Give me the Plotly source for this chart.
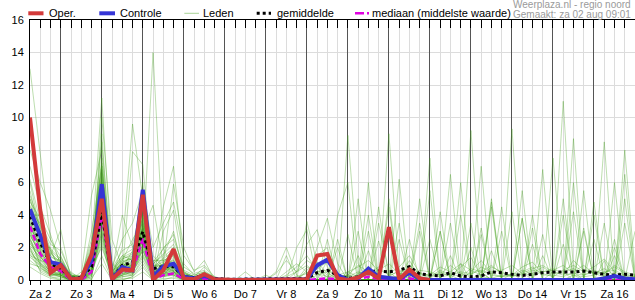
import plotly.graph_objects as go

# ---------------- data ----------------
# time axis: hours since Sat 2 Aug 00:00, 6-hourly steps
hours = list(range(6, 361, 6))
day_labels = ["Za 2", "Zo 3", "Ma 4", "Di 5", "Wo 6", "Do 7", "Vr 8", "Za 9",
              "Zo 10", "Ma 11", "Di 12", "Wo 13", "Do 14", "Vr 15", "Za 16"]
label_hours = [12 + 24 * i for i in range(15)]      # noon of each day
day_starts = [24 * i for i in range(1, 15)]         # midnight boundaries
y_ticks = [0, 2, 4, 6, 8, 10, 12, 14, 16]

# operational run (h6 .. h240)
oper = [10.0, 4.3, 0.45, 0.9, 0.05, 0.1, 1.55, 5.0, 0.05, 0.65,
        0.6, 5.25, 0.0, 0.6, 1.9, 0.1, 0.05, 0.35, 0.05, 0.0,
        0.0, 0.0, 0.0, 0.0, 0.0, 0.0, 0.0, 0.05, 1.5, 1.6,
        0.1, 0.0, 0.15, 0.5, 0.1, 3.25, 0.05, 0.65, 0.1, 0.0]

# control run (h6 .. h360)
control = [4.35, 2.8, 1.1, 0.95, 0.05, 0.1, 1.2, 5.9, 0.05, 0.8,
           0.6, 5.55, 0.2, 0.85, 1.0, 0.2, 0.1, 0.25, 0.05, 0.0,
           0.0, 0.0, 0.0, 0.0, 0.0, 0.0, 0.05,
           0.05, 0.9, 1.25, 0.3, 0.0, 0.1, 0.7, 0.2, 0.15, 0.05, 0.45, 0.05, 0.0,
           0.0, 0.0, 0.0, 0.0, 0.0, 0.05, 0.05, 0.0, 0.0, 0.0,
           0.0, 0.0, 0.05, 0.05, 0.05, 0.0, 0.1, 0.25, 0.1, 0.05]

# ensemble mean
mean = [3.9, 2.3, 1.0, 0.72, 0.1, 0.15, 0.8, 4.2, 0.1, 0.9,
        1.1, 2.97, 0.7, 0.83, 0.82, 0.2, 0.15, 0.3, 0.1, 0.05,
        0.05, 0.05, 0.05, 0.05, 0.05, 0.08, 0.1,
        0.1, 0.45, 0.6, 0.3, 0.1, 0.2, 0.5, 0.55, 0.5, 0.6, 0.82, 0.37, 0.3,
        0.25, 0.45, 0.25, 0.2, 0.25, 0.5, 0.45, 0.35, 0.28, 0.35,
        0.45, 0.5, 0.5, 0.5, 0.55, 0.45, 0.35, 0.3, 0.35, 0.3]

# ensemble median
median = [3.3, 1.6, 0.8, 0.55, 0.0, 0.0, 0.5, 4.0, 0.0, 0.55,
          0.55, 2.55, 0.05, 0.3, 0.4, 0.05, 0.0, 0.05, 0.0, 0.0,
          0.0, 0.0, 0.0, 0.0, 0.0, 0.0, 0.0,
          0.0, 0.05, 0.1, 0.05, 0.0, 0.05, 0.2, 0.05, 0.05, 0.0, 0.1, 0.0, 0.0,
          0.0, 0.0, 0.0, 0.0, 0.0, 0.0, 0.0, 0.0, 0.0, 0.0,
          0.0, 0.0, 0.0, 0.0, 0.0, 0.0, 0.0, 0.0, 0.0, 0.0]

# ensemble members, first part h6 .. h120
members_early = [
    "13 7.8 2.5 1 0.2 0 1.2 6 0.5 1 0.8 2.5 0.3 0.5 0.3 0 0 0.2 0 0",
    "8 6 4.3 2 0.3 0.2 2 11.2 1 0.5 0.3 4 1.5 0.8 0.5 0.2 0 0.5 0 0",
    "6 3 1.5 3.1 0 0 0.5 9 0.3 2 9.6 5 0.5 1 2 0.5 0.2 0 0 0",
    "5 2.5 0.8 0.5 0 0.3 5.2 8 0.2 0.5 7.9 7.1 0.2 0.3 1 0 0 0.2 0 0",
    "4 4 1.2 0.3 0.5 0 0.2 10 2.5 0.8 0.5 2 14 2 0.5 0 0 0 0 0",
    "3.5 1.8 0.5 1.5 0 0 3 7 0 1 1.5 6 0.5 4.5 7 1 0.3 0.5 0.2 0",
    "3 2 2 0.2 0 0.5 0 4 0.5 4 2 3 4.6 1 5.9 2 0.5 1.2 0 0",
    "2.5 1 0.3 0.8 0.2 0 1 5 0 0.3 0.5 1.5 0.2 3 4.3 0.5 0 0 0 0",
    "2 0.5 0.2 0 0 0 0.3 3 0 0 0.2 1 0 0.5 1 0 0 0 0 0",
    "1.5 1.2 1 0.5 0 0.1 0.8 2 0.3 0.5 1 4 0.8 0.2 0.4 0 0 0.3 0 0",
    "4.5 3 1.8 0.6 0.1 0 1.5 6.5 0.2 1.2 2.5 3.5 1 1.5 3 0.3 0 0 0 0",
    "2.8 1.5 0.4 0.2 0 0 0.2 3.5 0 0.8 0.6 2.2 0.3 0.6 0.8 0 0 0.1 0 0",
    "1 0.8 0.2 0.1 0 0 0 1.5 0 0 0.2 0.8 0 0 0.2 0 0 0 0 0",
    "3.2 2.2 1 0.9 0.3 0.2 2.5 5.5 0.6 1.5 1.2 4.5 0.6 2 2.5 0.8 0.4 0.6 0.1 0",
    "5.5 2.8 0.6 0.3 0 0 0.6 4.5 0.2 0.3 0.8 2.8 0.4 0.4 0.6 0.1 0 0 0 0",
    "2.2 1.6 1.4 1.2 0.2 0.1 1.8 7.5 0.4 0.7 1.8 3.2 1.2 1.2 1.5 0.3 0.2 0.4 0 0",
    "3.8 2.5 0.9 0.4 0 0 0.4 3.8 0.1 0.6 0.4 2.6 0.3 0.2 0.5 0 0 0 0 0",
    "1.8 1 0.6 0.7 0.1 0.3 1.3 4.8 0.3 1.1 1.3 3.6 0.9 0.9 1.2 0.2 0.1 0.2 0 0",
    "7 4.5 2.8 0.9 0.2 0.1 0.9 5.8 0.6 0.9 0.9 1.8 0.5 0.7 0.9 0.4 0.2 0.8 0.1 0",
    "2.6 0.9 0.3 0.3 0 0 0.5 2.6 0.1 0.2 0.3 1.2 0.1 0.3 0.3 0 0 0 0 0",
    "4.2 3.5 2.2 1.8 0.4 0.2 1.6 8.5 0.8 2.5 3.5 5.5 2 3.5 4.8 1.5 0.6 0.9 0.2 0",
    "0.8 0.4 0.1 0 0 0 0.1 1 0 0.1 0.1 0.5 0 0.1 0.1 0 0 0 0 0",
    "3.6 1.9 0.7 0.6 0.1 0 0.7 4.2 0.2 0.6 0.7 2.4 0.3 0.6 0.7 0.1 0.1 0.1 0 0",
    "2.4 1.3 0.5 0.4 0 0.2 1.1 6.2 0.4 0.9 1.1 3.3 0.7 1 1.1 0.2 0.1 0.3 0 0",
    "5 3.2 1.6 1.1 0.3 0.1 1.9 7.2 0.5 1.3 1.6 3.9 0.8 1.3 1.8 0.4 0.2 0.4 0.1 0",
    "1.2 0.7 0.4 0.3 0 0 0.4 2.4 0 0.4 0.5 1.6 0.2 0.4 0.4 0.1 0 0.1 0 0",
    "3.3 2.1 1.1 0.8 0.2 0.1 1.4 5.2 0.3 0.8 1.4 3.1 0.6 0.8 1.3 0.3 0.1 0.3 0 0",
    "2 1.1 0.4 0.2 0 0 0.6 3.3 0.1 0.5 0.6 2.1 0.2 0.5 0.6 0.1 0 0.1 0 0",
    "4.8 3.8 2.5 1.4 0.3 0.2 2.2 6.8 0.7 1.8 2.2 4.8 1.1 1.9 2.8 0.6 0.3 0.5 0.1 0",
    "3 1.4 0.8 0.5 0.1 0 0.9 4.6 0.2 0.7 0.9 2.9 0.4 0.6 1 0.2 0 0.2 0 0",
    "2.7 1.7 0.9 0.6 0.1 0 1 4.9 0.3 0.8 1 2.7 0.5 0.7 0.8 0.1 0 0.2 0 0",
    "3.4 2.4 1.3 0.5 0 0 0.8 5.8 0.2 0.6 0.7 3.4 0.4 0.9 1.4 0.3 0.1 0.2 0 0",
    "1.6 0.6 0.3 0.4 0 0 0.3 2.8 0 0.3 0.4 1.9 0.2 0.3 0.5 0 0 0 0 0",
    "4.4 2.9 1.5 1 0.2 0.1 1.7 6.6 0.5 1.4 1.7 4.2 0.8 1.1 1.6 0.3 0.1 0.3 0 0",
    "2.3 1.2 0.5 0.3 0 0 0.5 3.1 0.1 0.4 0.5 2.3 0.3 0.4 0.5 0.1 0 0 0 0",
    "3.1 2 1 0.7 0.1 0.1 1.2 5 0.4 1 1.2 3.5 0.6 0.9 1.1 0.2 0.1 0.2 0 0",
    "1.9 0.8 0.3 0.2 0 0 0.4 2.2 0 0.2 0.3 1.4 0.1 0.2 0.3 0 0 0 0 0",
    "6.2 3.6 1.9 1.3 0.2 0.1 1.4 6 0.3 1.1 1.4 3 0.7 1 1.2 0.3 0.2 0.3 0 0",
    "2.9 1.8 0.8 0.5 0 0 0.7 3.9 0.2 0.5 0.8 2.5 0.4 0.5 0.7 0.1 0 0.1 0 0",
    "3.7 2.3 1.2 0.9 0.2 0.1 1.3 5.4 0.4 1.2 1.3 3.7 0.7 1.4 2 0.4 0.2 0.3 0 0",
    "2.1 1.4 0.7 0.5 0.1 0 0.9 4.4 0.2 0.6 0.9 2.8 0.4 0.6 0.8 0.1 0 0.1 0 0",
    "3.9 2.6 1.1 0.8 0.1 0.1 1.1 5.1 0.3 0.9 1 3 0.5 0.8 1 0.2 0.1 0.2 0 0",
    "1.4 0.9 0.5 0.3 0 0 0.6 3.6 0.1 0.4 0.6 2 0.3 0.4 0.6 0 0 0 0 0",
    "4.6 3.3 1.7 1 0.2 0.1 1.5 6.3 0.5 1.3 1.5 3.8 0.7 1.2 1.5 0.3 0.1 0.3 0 0",
    "2.5 1.5 0.6 0.4 0 0 0.7 4 0.2 0.6 0.7 2.6 0.4 0.5 0.7 0.1 0 0.1 0 0",
    "3.5 2.2 1 0.6 0.1 0 1 4.7 0.3 0.7 0.9 3.2 0.5 0.7 0.9 0.2 0 0.2 0 0",
    "1.7 1 0.4 0.3 0 0 0.5 2.9 0.1 0.3 0.5 1.8 0.2 0.3 0.4 0 0 0 0 0",
    "5.2 3.4 1.8 1.2 0.3 0.1 1.8 7 0.6 1.5 1.9 4.5 1 1.6 2.2 0.5 0.2 0.4 0.1 0",
    "2.8 1.6 0.7 0.6 0.1 0 0.8 4.3 0.2 0.7 0.8 2.7 0.4 0.6 0.8 0.1 0 0.1 0 0",
    "3.3 2 0.9 0.7 0.1 0.1 1.1 5.2 0.3 0.8 1.1 3.3 0.5 0.8 1 0.2 0.1 0.2 0 0",
]

# ensemble members, second part h126 .. h360 (grouped per day)
members_late = [
    "0 0 0 | 0 0 0 0 | 0 0.3 0.5 0 | 8.9 1 0 0 | 0 0 0.2 0 | 0 0 1.5 0 | 0 0.5 0 0 | 0 0 2.2 0 | 0 0 0.3 0 | 0 1.2 0 0 | 0",
    "0 0 0 | 0 0.5 2 0.3 | 0 0 0 0 | 0 0 1.8 0 | 9 0.5 0 0 | 0 0 0 0 | 0 2.8 0 0 | 0.4 0 0 0 | 0 0 0 3.2 | 0 0 0 0 | 0",
    "0 0 0 | 0 0 0 0 | 3.6 1 0 0 | 0 0 0 2.4 | 0 0 0 0 | 0 0 0 0 | 9.2 0.5 0 0 | 0 0 0 1.5 | 0 0 0 0 | 0 0 2 0 | 0",
    "0 0 0 | 0 0 0 0 | 0 0 1.2 0 | 0 0 0 0 | 0 2.5 0 0 | 0 0 0 1 | 0 0 0 0 | 9.3 0.5 0 0 | 0 0 0 0 | 0 0 0 3.5 | 0",
    "0 0 0 | 0 0 0 0 | 0 0 0 0 | 0 1.5 0 0 | 0 0 0 0 | 0 4.2 0 0 | 0 0 0 0 | 0 0 0 0 | 0.5 11 0.5 0 | 0 0 0 0 | 0",
    "0 0 0 | 0 0 0 0 | 0 0 0 0 | 0 0 0 0 | 0 0 0 3.5 | 0 0 0 0 | 0 0 1.8 0 | 0 0 0 0 | 0 0 8.7 0 | 0 8.5 0 0 | 0",
    "0 0 0 | 0 0 0 0 | 0 0 0 0 | 0 0 0 0 | 0 0 0 0 | 2.5 0 0 0 | 0 0 0 4.5 | 0 0 0 0 | 7.5 0.5 0 0 | 0 0 0 8 | 0.5",
    "0 0 0 | 0 0 1.5 0 | 0 0 0 4 | 6 0 0 0 | 0 0 0 0 | 0 3 0 0 | 0 0 5 0 | 0 0 0 0 | 0 4 0 0 | 0 0 0 0 | 0",
    "0 0.5 0 | 0 0 0 2 | 3.1 0 0 0 | 0 0 6 0 | 0 0 0 0 | 5.5 0 0 0 | 0 0 0 0 | 0 3.8 0 0 | 0 0 0 0 | 2.5 0 0 0 | 0",
    "0 0 0 | 0 0 0 0 | 0 0 0 0 | 0 0 0 4.5 | 0 0 0 0 | 0 0 6.5 0 | 0 0 0 0 | 4.2 0 0 0 | 0 0 0 0 | 0 0 0 5 | 0",
    "0 0 0 | 0 0 0 0 | 0.5 0 0 0 | 0 0 0 0 | 0 6.2 0 0 | 0 0 0 0 | 0 0 0 3 | 0 0 0 0 | 0 0 0 0 | 0 0 6 0 | 0",
    "0 0 0 | 0 0 0 0 | 0 1.5 2 0 | 0 0 0 0 | 0 0 0 0 | 0 0 0 4 | 0 0 0 0 | 0 0 0 6.8 | 0 0 0 0 | 0 0 0 0 | 3",
    "0 0 0 | 0.3 0 0 0 | 0 0 0 0 | 0 0 0 0 | 0 0 0 0 | 0 0 0 0 | 0 7 0 0 | 0 0 0 0 | 0 0 0 0 | 4.8 0 0 0 | 0",
    "0 0 0 | 0 0 0 0.5 | 1.2 0.8 0.3 0 | 0.5 0.8 1.2 0.6 | 0.4 0.8 1.5 0.4 | 0.3 0.2 0.3 0.5 | 0.4 0.6 0.3 0.2 | 0.4 0.3 0.6 0.5 | 0.7 0.4 0.3 0.2 | 0.3 0.5 0.6 0.3 | 0.2",
    "0 0 0 | 0 0 0 0 | 0 0 0 2 | 0 0 0 0 | 0 0 0 0 | 0 0 0 0 | 3.5 0 0 0 | 0 0 0 0 | 0 0 6 0 | 0 0 0 0 | 0",
    "0 0 0 | 0 0 0 0 | 0.8 0.5 0.6 0.2 | 0.3 0.2 0.8 0.3 | 0.2 0.2 1.2 0.2 | 0.1 0.5 0.2 0.8 | 1.4 0.2 0.1 0.3 | 0.2 0.5 0.8 0.3 | 0.3 0.2 0.5 0.9 | 0.4 0.2 0.2 0.1 | 0.2",
    "0 0 0 | 0 0 0 0 | 0 0 0 0 | 0 0 0 0 | 0 3.5 0 0 | 0 0 0 0 | 0 0 0 0 | 0 0 0 2.8 | 0 0 0 0 | 0 0 0 0 | 0",
    "0 0 0 | 0 0 0 0 | 0.2 0.4 0 0 | 0 0 3 0 | 0 0 0 0 | 0 0 0 0 | 0 0 0 0 | 0 0 0 0 | 0 0 0 0 | 0 0 0 0 | 0",
    "0 0 0 | 0 0 0 0 | 0 0 0 0 | 0 0 0 0 | 5 0 0 0 | 0 0 0 0 | 0 0 0 0 | 0 0 4 0 | 0 0 0 0 | 0 0 0 0 | 0",
    "0 0 0 | 0 0 0.5 1 | 0.5 0 0 0 | 0 0 0 0 | 0 0 0 0 | 0 0 0 0 | 2 0 0 0 | 0 0 0 0 | 0 0 0 0 | 0 0 1.5 0 | 0",
    "0 0 0 | 0 0 0 0 | 0 0 0 0 | 0 3 0 0 | 0 0 0 0 | 0 0 0 6 | 0 0 0 0 | 0 0 0 0 | 0 0 0 0 | 0 3.5 0 0 | 0",
    "0 0 0 | 0 0 0 0 | 0 0 0 0 | 0 5 0 0 | 0 0 0 0 | 0 0 0 0 | 0 0 0 0 | 0 0 0 0 | 0 2.2 0 0 | 0 0 0 0 | 0",
    "0 0 0 | 0 0 0 0 | 0 0 0 0 | 0 0 0 0 | 0 0 0 0 | 0 0 0 0 | 0 0 0 0 | 0 5.5 0 0 | 0 0 0 0 | 0 0 0 0 | 0",
    "0 0 0 | 0 0 0 0 | 0 0 2.5 0 | 0 0 0 0 | 0 0 0 0 | 0 0 0 0 | 0 0 0 0 | 0 0 0 0 | 0 0 0 5.5 | 0 0 0 0 | 0",
    "0 0 0 | 0 0 0 0 | 0 0 0 0 | 0 0 0 0 | 0 0 0 0 | 7.5 0 0 0 | 0 0 0 0 | 0 0 0 0 | 0 0 0 0 | 0 0 0 0 | 0",
    "0 0 0 | 0 0 0 0 | 0 0 0 0 | 0 0 0 0 | 4.5 0 0 0 | 0 0 0 0 | 0 0 0 0 | 0 0 0 0 | 0 0 0 0 | 0 0 0 0 | 0",
    "0 0 0 | 0 0 0 0 | 0 0 0 0 | 0 0 0 0 | 0 0 0 0 | 0 0 0 0 | 0 0 0 0 | 0 0 0 0 | 0 0 0 0 | 4 0 0 0 | 0",
    "0 0 0 | 0 0 0 0 | 0 0 0 0 | 0 0 0 0 | 0 0 0 3 | 0 0 0 0 | 0 0 0 0 | 0 0 0 0 | 0 0 0 0 | 0 0 0 0 | 0",
    "0 0 0 | 0 0 0 0 | 0 0 0 0 | 0 0 0 0 | 0 0 0 0 | 0 0 0 0 | 0 0 4.8 0 | 0 0 0 0 | 0 0 0 0 | 0 0 0 0 | 0",
    "0 0 0 | 0 0 0.3 0.8 | 1.5 0.6 0.2 0 | 0 0.4 0.6 0.2 | 0 0.3 0.9 0.4 | 0.2 0.6 0.3 0 | 0.5 1.2 0.4 0.2 | 0.3 0.8 1.1 0.4 | 0.2 0.6 0.9 0.5 | 0.8 1.3 0.5 0.2 | 0.1",
    "0 0 0 | 0 0 0 0 | 0 0 0 0 | 0 0 0 0 | 0 0 0 0 | 0 0 0 0 | 0 0 0 0 | 0 0 0 0 | 0 0 0 3 | 0 0 0 0 | 0",
    "0 0 0 | 0 0 0 0 | 0.6 1.1 0.4 0.1 | 0.3 0.9 0.5 0.3 | 0.2 0.6 0.4 0.1 | 0.3 0.8 0.5 1 | 0.6 0.3 0.8 0.5 | 0.2 0.4 0.7 0.9 | 0.5 0.3 1.2 0.6 | 0.4 0.7 0.3 0.2 | 0.3",
    "0 0 0 | 0 0 0.2 0.5 | 0.9 0.4 0.2 0.3 | 0.5 0.2 0.4 0.8 | 0.3 0.5 0.7 0.2 | 0.4 0.3 0.9 0.4 | 0.3 0.8 0.5 0.6 | 0.9 0.4 0.3 0.5 | 0.6 0.9 0.4 0.3 | 0.5 0.4 0.8 0.4 | 0.2",
    "0 0 0 | 0 0 0 0 | 0 0 0 2.5 | 0 0 4 0 | 0 0 0 0 | 0 0 0 0 | 0 0 0 0 | 0 0 0 0 | 0 0 0 0 | 0 0 0 0 | 0",
    "0 0 0 | 0 0 0 0 | 0 0 0 0 | 0 0 0 0 | 0 0 0 5 | 0 0 0 0 | 0 0 0 0 | 0 0 0 0 | 0 0 0 0 | 0 0 0 0 | 0",
    "0 0 0 | 0 0 0 0 | 0 0 0 0 | 0 0 0 0 | 0 0 0 0 | 0 0 0 0 | 0 0 4.5 0 | 0 0 0 0 | 0 0 0 0 | 0 0 0 0 | 0",
    "0 0 0 | 0 0 0 0 | 0 0 0 0 | 0 0 0 0 | 0 0 0 0 | 0 0 0 0 | 0 0 0 0 | 0 3.8 0 0 | 0 0 0 0 | 0 0 2.5 0 | 0",
    "0 0 0 | 0 0 0 0 | 0 0 0 0 | 0 0 0 0 | 0 0 0 0 | 0 3 0 0 | 0 0 0 0 | 0 0 0 0 | 0 0 0 0 | 0 0 0 0 | 0",
    "0 0 0 | 0 0 0 0 | 0 0 0 0 | 0 0 0 0 | 0 0 0 0 | 0 0 0 0 | 0 0 0 0 | 0 0 0 0 | 0 0 4.2 0 | 0 0 0 0 | 0",
    "0 0 0 | 0 0 0 0.2 | 0.4 0.7 1.1 0.3 | 0.2 0.5 0.3 0.6 | 1 0.4 0.3 0.6 | 0.5 0.3 0.4 0.2 | 0.7 0.5 0.9 0.4 | 0.3 0.6 0.4 0.8 | 0.4 0.5 0.7 0.3 | 0.6 0.4 0.9 0.5 | 0.3",
    "0 0 0 | 0 0.4 1.2 0.5 | 2.2 3.1 0.8 0 | 0 0 0 0 | 0 0 0 0 | 0 0 0 0 | 0 0 0 0 | 0 0 0 0 | 0 0 0 0 | 0 0 0 0 | 0",
    "0 0 0 | 0 0 0 0 | 0 2 3.8 1 | 0 0 0 0 | 0 0 0 0 | 0 0 0 0 | 0 0 0 0 | 0 0 0 0 | 0 0 0 0 | 0 0 0 0 | 0",
    "0 0 0 | 0 0 0 0 | 0 0 0 0 | 0 0 0 3.5 | 0.5 0 0 0 | 0 0 0 0 | 0 0 0 0 | 0 0 0 0 | 0 0 0 0 | 0 0 0 0 | 0",
    "0 0 0 | 0 0 0 0 | 0 0 0 0 | 2.8 0 0 0 | 0 0 0 0 | 0 0 0 0 | 0 3.2 0 0 | 0 0 0 0 | 0 0 0 0 | 0 0 0 0 | 0",
    "0 0 0 | 0 0 0 0 | 0 0 0 0 | 0 0 0 0 | 0 0 2.5 0 | 0 0 0 0 | 0 0 0 0 | 0 0 0 0 | 0 0 0 0 | 0 0 0 6.5 | 0",
    "0 0 0 | 0 0 0 0 | 0 0 0 0 | 0 0 0 0 | 0 0 0 0 | 0 0 0 0 | 0 0 0 0 | 0 0 0 0 | 0 5 0 0 | 0 0 0 0 | 0",
    "0 0 0 | 0 0 0 0 | 0 0 0 0 | 0 0 0 0 | 0 0 0 0 | 0 0 3.5 0 | 0 0 0 0 | 0 0 0 0 | 0 0 0 0 | 0 0 0 0 | 0",
    "0 0 0 | 0 0 0 0 | 0 0 0 0 | 0 0 0 0 | 0 0 0 0 | 0 0 0 0 | 0 0 0 0 | 0 0 0 0 | 0 0 0 0 | 0 0 0 0 | 0",
    "0 0 0 | 0 0 0 0 | 0 0 0 0 | 0 0 0 0 | 0 0 0 0 | 0 0 0 0 | 0 0 0 0 | 0 0 3.2 0 | 0 0 0 0 | 0 0 0 0 | 0",
    "0 0 0 | 0 0 0 0 | 0 0 0 0 | 0 0 0 0 | 0 0 0 0 | 0 0 0 0 | 0 0 0 0 | 0 0 0 0 | 0 0 0 0 | 0 0 0 0 | 0",
]


def parse(s):
    return [float(t) for t in s.split() if t != "|"]


members = [parse(a) + parse(b) for a, b in zip(members_early, members_late)]
for m in members:
    assert len(m) == len(hours), len(m)

# ---------------- styles ----------------
RED = "#d33a3a"
BLUE = "#3535d6"
GREEN = "rgba(65,160,25,0.35)"
MAGENTA = "#e000e0"
FONT = "Liberation Sans, Arial, sans-serif"

fig = go.Figure()

for m in members:
    fig.add_trace(go.Scatter(x=hours, y=m, mode="lines",
                             line=dict(color=GREEN, width=1),
                             hoverinfo="skip", showlegend=False))

fig.add_trace(go.Scatter(x=hours, y=median, mode="lines",
                         line=dict(color=MAGENTA, width=2.5, dash="6px,3px"),
                         showlegend=False))
fig.add_trace(go.Scatter(x=hours, y=mean, mode="lines",
                         line=dict(color="black", width=3, dash="dot"),
                         showlegend=False))
fig.add_trace(go.Scatter(x=hours, y=control, mode="lines",
                         line=dict(color=BLUE, width=4),
                         showlegend=False))
fig.add_trace(go.Scatter(x=hours[:len(oper)], y=oper, mode="lines",
                         line=dict(color=RED, width=4),
                         showlegend=False))
# invisible trace so the top (day-boundary) axis is drawn
fig.add_trace(go.Scatter(x=[hours[0]], y=[0], xaxis="x2", mode="markers",
                         marker=dict(opacity=0), hoverinfo="skip",
                         showlegend=False))

xr = [hours[0], hours[-1]]

fig.update_layout(
    width=635, height=300,
    margin=dict(l=30, r=0, t=20, b=20),
    paper_bgcolor="white", plot_bgcolor="white",
    showlegend=False,
    font=dict(family=FONT, size=11, color="black"),
    xaxis=dict(
        range=xr, tickmode="array", tickvals=label_hours, ticktext=day_labels,
        ticks="outside", ticklen=4, tickcolor="black",
        showline=True, linecolor="black", linewidth=1,
        showgrid=True, gridcolor="#dcdcdc", gridwidth=1, zeroline=False,
        minor=dict(tickmode="array", tickvals=hours, ticks="outside",
                   ticklen=4, tickcolor="black", showgrid=True,
                   gridcolor="#dcdcdc", gridwidth=1),
        tickfont=dict(family=FONT, size=11, color="black"),
    ),
    xaxis2=dict(
        overlaying="x", side="top", range=xr,
        tickmode="array", tickvals=day_starts, showticklabels=False,
        ticks="inside", ticklen=8, tickcolor="black",
        showline=True, linecolor="black", linewidth=1,
        showgrid=True, gridcolor="#555555", gridwidth=1, zeroline=False,
        minor=dict(tickmode="array", tickvals=hours, ticks="inside",
                   ticklen=8, tickcolor="black", showgrid=False),
    ),
    yaxis=dict(
        range=[0, 16], tickmode="array", tickvals=y_ticks,
        showline=True, linecolor="black", linewidth=1, ticks="",
        showgrid=True, gridcolor="#dcdcdc", gridwidth=1, zeroline=False,
        tickfont=dict(family=FONT, size=11, color="black"),
        ticklabelstandoff=3,
    ),
)

# ---------------- manual legend (top strip) ----------------
W, H = 605.0, 260.0


def px(xpix):
    return (xpix - 30.0) / W


def py(ypix):
    return (280.0 - ypix) / H


legend_items = [
    ("Oper.", RED, 4, "solid", 28.3, 43.5, 46.5),
    ("Controle", BLUE, 4, "solid", 99.3, 115.0, 117.5),
    ("Leden", "rgba(65,160,25,0.45)", 1, "solid", 184.3, 199.0, 201.0),
    ("gemiddelde", "black", 3, "dot", 256.7, 271.0, 275.0),
    ("mediaan (middelste waarde)", MAGENTA, 2.5, "dashdot", 355.0, 369.0, 369.5),
]
ly = 13.3
for label, col, w, dash, x0, x1, xt in legend_items:
    fig.add_shape(type="line", xref="paper", yref="paper",
                  x0=px(x0), x1=px(x1), y0=py(ly), y1=py(ly),
                  line=dict(color=col, width=w, dash=dash))
    fig.add_annotation(text=label, xref="paper", yref="paper",
                       x=px(xt), y=py(ly), xanchor="left", yanchor="middle",
                       showarrow=False,
                       font=dict(family=FONT, size=11, color="black"))

fig.add_annotation(text="Weerplaza.nl - regio noord", xref="paper", yref="paper",
                   x=px(633), y=py(4.5), xanchor="right", yanchor="middle",
                   showarrow=False, font=dict(family=FONT, size=10, color="#9a9a9a"))
fig.add_annotation(text="Gemaakt: za 02 aug 09:01", xref="paper", yref="paper",
                   x=px(633), y=py(14), xanchor="right", yanchor="middle",
                   showarrow=False, font=dict(family=FONT, size=10, color="#9a9a9a"))

fig.write_html("out.html")
